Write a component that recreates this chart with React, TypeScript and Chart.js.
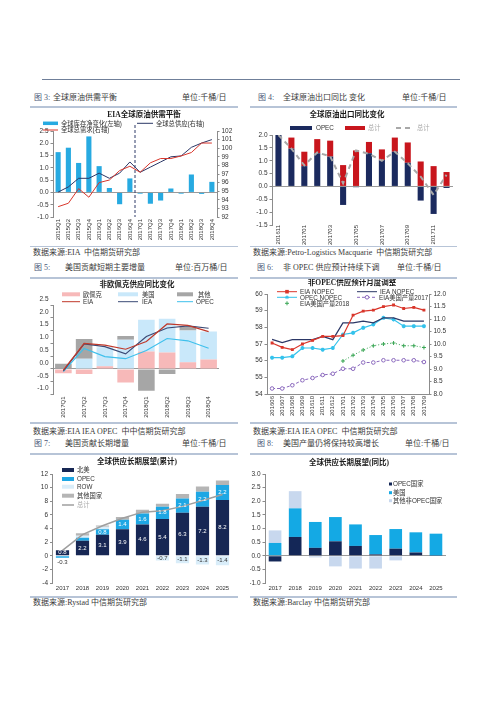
import React, { useEffect, useRef } from 'react';
import { Chart, registerables } from 'chart.js';
Chart.register(...registerables);

// ---------------- DATA ----------------
// Fig 3: EIA global supply/demand balance
const q3Labels = ['2015Q1','2015Q2','2015Q3','2015Q4','2016Q1','2016Q2','2016Q3','2016Q4','2017Q1','2017Q2','2017Q3','2017Q4','2018Q1','2018Q2','2018Q3','2018Q4'];
const q3StockChange = [1.64, 1.82, 1.2, 2.28, 1.07, 0.18, -0.48, 0.57, -0.05, -0.46, -0.33, 0.16, -0.05, 0.73, -0.06, 0.43];
const q3Demand = [93.2, 93.6, 95.3, 94.3, 96.0, 96.3, 97.4, 97.9, 97.2, 98.3, 98.8, 98.8, 99.1, 99.5, 100.6, 100.6];
const q3Supply = [94.9, 95.5, 96.5, 96.5, 97.1, 96.5, 97.1, 98.4, 97.2, 97.8, 98.4, 99.0, 99.1, 100.1, 100.6, 101.0];

// Fig 4: global crude export YoY change
const m4Labels = ['201611','201612','201701','201702','201703','201704','201705','201706','201707','201708','201709','201710','201711','201712'];
const m4Opec = [2.0, 1.47, 0.79, 1.29, 1.16, -0.72, -0.03, 1.29, 1.03, 1.35, 0.92, -0.55, -1.07, -0.06];
const m4Other = [0, 0.43, 0.56, 0.55, 0.62, 0.83, 1.4, 0.44, 0.41, 0.55, 0.79, 0.97, 0.79, 0.56];
const m4Total = [2.0, 1.47, 0.82, 1.32, 1.17, 0.12, 1.4, 1.27, 1.0, 1.35, 0.9, 0.38, -0.33, 0.45];

// Fig 5: non-OPEC supply YoY change
const q5Labels = ['2017Q1','2017Q2','2017Q3','2017Q4','2018Q1','2018Q2','2018Q3','2018Q4'];
const q5Pink = [-0.17, -0.2, 0.1, -0.53, 0.68, 0.64, 0.26, 0.37];
const q5US = [0, 0.4, 0.75, 1.14, 1.24, 1.32, 1.24, 1.09];
const q5Others = [0.2, 0.77, 0, 0.15, -0.85, -0.2, 0.16, 0];
const q5EIA = [-0.05, 1.0, 0.93, 0.77, 1.07, 1.76, 1.7, 1.46];
const q5IEA = [-0.08, 0.98, 0.87, 0.59, 1.27, 1.6, 1.68, 1.59];
const q5OPEC = [-0.1, 0.8, 0.48, 0.4, 0.72, 1.19, 1.1, 0.81];

// Fig 6: monthly revisions of non-OPEC supply forecasts
const m6Labels = ['201606','201607','201608','201609','201610','201611','201612','201701','201702','201703','201704','201705','201706','201707','201708','201709'];
const m6EIA = [57.06, 56.8, 56.66, 57.0, 57.22, 57.46, 57.46, 57.5, 58.73, 58.97, 59.03, 59.24, 59.34, 59.13, 59.2, 59.03];
const m6IEA = [57.28, 57.08, 57.26, 57.26, 57.26, 57.46, 57.26, 58.27, 58.27, 58.37, 58.27, 58.57, 58.57, 58.37, 58.37, 58.37];
const m6OPEC = [56.18, 56.18, 56.26, 56.76, 56.76, 56.66, 56.76, 57.57, 57.67, 57.97, 58.17, 58.57, 58.47, 58.07, 58.07, 58.07];
const m6US2017 = [8.22, 8.22, 8.35, 8.55, 8.64, 8.76, 8.81, 9.01, 9.01, 9.26, 9.26, 9.35, 9.35, 9.35, 9.35, 9.28];
const m6US2018 = [null, null, null, null, null, null, null, 9.32, 9.55, 9.76, 9.93, 10.0, 10.04, 9.93, 9.93, 9.86];

// Fig 7: long-term supply outlook (cumulative)
const y7Labels = ['2017','2018','2019','2020','2021','2022','2023','2024','2025'];
const y7NorthAmerica = [0.8, 2.2, 3.1, 3.9, 4.6, 5.4, 6.3, 7.2, 8.2];
const y7OPEC = [-0.3, 0.45, 0.8, 1.4, 1.6, 1.8, 2.1, 2.2, 2.2];
const y7ROW = [0, 0.3, 0.35, 0, 0, -0.7, -1.1, -1.3, -1.4];
const y7Others = [0, 0.35, 0.2, 0.4, 0.55, 0.45, 0.65, 0.75, 0.65];
const y7Total = [0.8, 3.1, 4.4, 5.5, 6.4, 6.6, 7.25, 8.1, 9.0];

// Fig 8: long-term supply outlook (YoY)
const y8Labels = ['2017','2018','2019','2020','2021','2022','2023','2024','2025'];
const y8OPEC = [-0.21, 0.69, 0.29, 0.53, 0.36, 0.05, 0.26, 0.12, 0.01];
const y8US = [0.47, 1.05, 0.95, 0.89, 0.79, 0.71, 0.72, 0.74, 0.8];
const y8OtherNonOPEC = [0.46, 0.63, -0.06, -0.39, -0.47, -0.47, -0.17, 0, 0];

// ---------------- STYLE HELPERS ----------------
const SANS = '"Liberation Sans", Arial, "Noto Sans CJK SC", sans-serif';
const CJK = '"Liberation Serif", "Noto Sans CJK SC", serif';
const AXIS = '#8c8c8c';
const TICK = '#333';

type LItem = {
  kind: 'box' | 'line' | 'sq' | 'mark';
  x: number; y: number; w: number; text: string; tx: number;
  color: string; h?: number; dash?: number[]; lw?: number;
  marker?: string; mfill?: string; tcolor?: string;
};

function drawMarker(ctx: CanvasRenderingContext2D, kind: string, x: number, y: number, r: number, color: string, fill?: string) {
  ctx.save();
  ctx.setLineDash([]);
  ctx.strokeStyle = color;
  ctx.fillStyle = fill || color;
  ctx.lineWidth = 1;
  if (kind === 'circle') {
    ctx.beginPath(); ctx.arc(x, y, r, 0, Math.PI * 2); ctx.fill(); ctx.stroke();
  } else if (kind === 'cross') {
    ctx.beginPath(); ctx.moveTo(x - r, y); ctx.lineTo(x + r, y); ctx.moveTo(x, y - r); ctx.lineTo(x, y + r); ctx.stroke();
  } else if (kind === 'star') {
    ctx.beginPath();
    ctx.moveTo(x - r, y); ctx.lineTo(x + r, y); ctx.moveTo(x, y - r); ctx.lineTo(x, y + r);
    ctx.moveTo(x - r * 0.7, y - r * 0.7); ctx.lineTo(x + r * 0.7, y + r * 0.7);
    ctx.moveTo(x - r * 0.7, y + r * 0.7); ctx.lineTo(x + r * 0.7, y - r * 0.7);
    ctx.stroke();
  } else if (kind === 'rect') {
    ctx.fillRect(x - r, y - r, 2 * r, 2 * r);
  }
  ctx.restore();
}

function makeDeco(cfg: any) {
  return {
    id: 'deco',
    afterDatasetsDraw(chart: any) {
      const ctx = chart.ctx as CanvasRenderingContext2D;
      const area = chart.chartArea;
      if (cfg.vlineAfter !== undefined) {
        const xs = chart.scales.x;
        const x = (xs.getPixelForValue(cfg.vlineAfter) + xs.getPixelForValue(cfg.vlineAfter + 1)) / 2;
        ctx.save();
        ctx.strokeStyle = '#2e3a68'; ctx.lineWidth = 1; ctx.setLineDash([3, 2]);
        ctx.beginPath(); ctx.moveTo(x, area.top - 6); ctx.lineTo(x, area.bottom); ctx.stroke();
        ctx.restore();
      }
      if (cfg.barLabel) {
        ctx.save();
        ctx.font = `6px ${SANS}`;
        ctx.textAlign = 'center';
        ctx.textBaseline = 'middle';
        chart.data.datasets.forEach((ds: any, di: number) => {
          const meta = chart.getDatasetMeta(di);
          if (meta.type !== 'bar') return;
          meta.data.forEach((el: any, i: number) => {
            const v = ds.data[i];
            const style = cfg.barLabel(di, v);
            if (!style) return;
            let cy = (el.y + el.base) / 2;
            if (style.outside) cy = Math.max(el.y, el.base) + 5;
            ctx.fillStyle = style.color;
            ctx.fillText(v.toFixed(1), el.x, cy);
          });
        });
        ctx.restore();
      }
    },
    afterDraw(chart: any) {
      const ctx = chart.ctx as CanvasRenderingContext2D;
      const ox = cfg.ox, oy = cfg.oy;
      ctx.save();
      ctx.font = `bold 7.5px ${CJK}`;
      ctx.fillStyle = '#1a1a1a';
      ctx.textAlign = 'center';
      ctx.textBaseline = 'middle';
      ctx.fillText(cfg.title, cfg.titleX - ox, cfg.titleY - oy);
      ctx.textAlign = 'left';
      ctx.font = `6.3px ${SANS}`;
      for (const it of cfg.legend as LItem[]) {
        const x = it.x - ox, y = it.y - oy;
        if (it.kind === 'box') {
          ctx.fillStyle = it.color;
          const h = it.h || 4;
          ctx.fillRect(x, y - h / 2, it.w, h);
        } else if (it.kind === 'sq') {
          ctx.fillStyle = it.color;
          ctx.fillRect(x, y - 1.5, 3, 3);
        } else if (it.kind === 'line') {
          ctx.save();
          ctx.strokeStyle = it.color; ctx.lineWidth = it.lw || 1;
          ctx.setLineDash(it.dash || []);
          ctx.beginPath(); ctx.moveTo(x, y); ctx.lineTo(x + it.w, y); ctx.stroke();
          ctx.restore();
          if (it.marker) drawMarker(ctx, it.marker, x + it.w / 2, y, 1.8, it.color, it.mfill);
        } else if (it.kind === 'mark') {
          if (it.marker) drawMarker(ctx, it.marker, x + it.w / 2, y, 2, it.color, it.mfill);
        }
        ctx.fillStyle = it.tcolor || '#333';
        ctx.fillText(it.text, it.tx - ox, y + 0.5);
      }
      ctx.restore();
    },
  };
}

function catAxis(h: number, rotate: boolean, extra: any = {}) {
  return {
    type: 'category',
    grid: { display: false, drawTicks: false, tickLength: 0 },
    border: { display: !!extra.border, color: AXIS },
    stacked: !!extra.stacked,
    offset: true,
    ticks: {
      font: { size: 6, family: SANS },
      color: TICK,
      autoSkip: false,
      padding: extra.padding !== undefined ? extra.padding : 2,
      minRotation: rotate ? 90 : 0,
      maxRotation: rotate ? 90 : 0,
      ...(extra.callback ? { callback: extra.callback } : {}),
    },
    afterFit: (s: any) => { s.height = h; },
  };
}

function valAxis(w: number, min: number, max: number, step: number, dec: number, extra: any = {}) {
  return {
    type: 'linear',
    position: extra.position || 'left',
    min, max,
    stacked: !!extra.stacked,
    grid: {
      drawOnChartArea: !!extra.zero,
      color: (c: any) => (c.tick && c.tick.value === 0 ? '#9a9a9a' : 'rgba(0,0,0,0)'),
      tickColor: AXIS,
      tickLength: 2.5,
      lineWidth: 1,
    },
    border: { display: true, color: AXIS },
    ticks: {
      stepSize: step,
      autoSkip: false,
      font: { size: 6.5, family: SANS },
      color: TICK,
      padding: 2,
      labelOffset: extra.labelOffset || 0,
      callback: (v: any) => Number(v).toFixed(dec),
    },
    afterFit: (s: any) => { s.width = w; },
  };
}

const baseOpts = (pad: any) => ({
  animation: false,
  responsive: false,
  maintainAspectRatio: false,
  layout: { padding: pad },
  plugins: { legend: { display: false }, tooltip: { enabled: false }, title: { display: false } },
});

// ---------------- CHART CONFIGS ----------------
function cfg3(ox: number, oy: number) {
  return {
    type: 'bar',
    data: {
      labels: q3Labels,
      datasets: [
        { type: 'bar', label: '全球库存净变化(左轴)', data: q3StockChange, yAxisID: 'y', backgroundColor: '#27aae1', barPercentage: 0.5, categoryPercentage: 1, order: 2 },
        { type: 'line', label: '全球总需求(右轴)', data: q3Demand, yAxisID: 'y1', borderColor: '#d9362b', borderWidth: 1, pointRadius: 0, order: 1 },
        { type: 'line', label: '全球总供应(右轴)', data: q3Supply, yAxisID: 'y1', borderColor: '#2b3766', borderWidth: 1, pointRadius: 0, order: 1 },
      ],
    },
    options: {
      ...baseOpts({ top: 23, left: 0, right: 0, bottom: 0 }),
      scales: {
        x: catAxis(29, true),
        y: valAxis(23, -1, 2.5, 0.5, 1, { zero: true }),
        y1: valAxis(21, 92, 102, 1, 0, { position: 'right' }),
      },
    },
    plugins: [makeDeco({
      ox, oy, title: 'EIA全球原油供需平衡', titleX: 144, titleY: 115, vlineAfter: 7,
      legend: [
        { kind: 'box', x: 43, y: 123.3, w: 15, h: 3.5, color: '#27aae1', text: '全球库存净变化(左轴)', tx: 61 },
        { kind: 'line', x: 137, y: 123.3, w: 16, color: '#2b3766', text: '全球总供应(右轴)', tx: 156 },
        { kind: 'line', x: 43, y: 130, w: 15, color: '#d9362b', text: '全球总需求(右轴)', tx: 61 },
      ],
    })],
  };
}

function cfg4(ox: number, oy: number) {
  return {
    type: 'bar',
    data: {
      labels: m4Labels,
      datasets: [
        { type: 'bar', label: 'OPEC', data: m4Opec, backgroundColor: '#1b2a5e', barPercentage: 0.47, categoryPercentage: 1, stack: 'b', order: 2 },
        { type: 'bar', label: '总计', data: m4Other, backgroundColor: '#c8161d', barPercentage: 0.47, categoryPercentage: 1, stack: 'b', order: 2 },
        { type: 'line', label: '总计', data: m4Total, borderColor: '#a8a8a8', borderWidth: 2, borderDash: [5, 4], pointRadius: 0, stack: 'l', order: 1 },
      ],
    },
    options: {
      ...baseOpts({ top: 27, left: 0, right: 4, bottom: 0 }),
      scales: {
        x: catAxis(21, true, { stacked: true, padding: 0, callback: (v: any, i: number) => (i % 2 === 0 ? m4Labels[i] : '') }),
        y: valAxis(22, -1.5, 2.0, 0.5, 1, { zero: true, stacked: true }),
      },
    },
    plugins: [makeDeco({
      ox, oy, title: '全球原油出口同比变化', titleX: 347, titleY: 115,
      legend: [
        { kind: 'box', x: 290, y: 128, w: 22, h: 4, color: '#1b2a5e', text: 'OPEC', tx: 316 },
        { kind: 'box', x: 345, y: 128, w: 20, h: 4, color: '#c8161d', text: '总计', tx: 368, tcolor: '#aaa' },
        { kind: 'line', x: 396, y: 128, w: 17, lw: 2, dash: [5, 4], color: '#a8a8a8', text: '总计', tx: 417, tcolor: '#aaa' },
      ],
    })],
  };
}

function cfg5(ox: number, oy: number) {
  return {
    type: 'bar',
    data: {
      labels: q5Labels,
      datasets: [
        { type: 'bar', label: '欧佩克', data: q5Pink, backgroundColor: '#f7b9b9', barPercentage: 0.8, categoryPercentage: 1, stack: 'b', order: 2 },
        { type: 'bar', label: '美国', data: q5US, backgroundColor: '#c9e8fa', barPercentage: 0.8, categoryPercentage: 1, stack: 'b', order: 2 },
        { type: 'bar', label: '其他', data: q5Others, backgroundColor: '#a6a6a6', barPercentage: 0.8, categoryPercentage: 1, stack: 'b', order: 2 },
        { type: 'line', label: 'EIA', data: q5EIA, borderColor: '#c0392b', borderWidth: 1.2, pointRadius: 0, stack: 'l1', order: 1 },
        { type: 'line', label: 'IEA', data: q5IEA, borderColor: '#3b4a75', borderWidth: 1.2, pointRadius: 0, stack: 'l2', order: 1 },
        { type: 'line', label: 'OPEC', data: q5OPEC, borderColor: '#3ec0ec', borderWidth: 1.2, pointRadius: 0, stack: 'l3', order: 1 },
      ],
    },
    options: {
      ...baseOpts({ top: 26, left: 0, right: 19, bottom: 0 }),
      scales: {
        x: catAxis(28.5, true, { stacked: true }),
        y: valAxis(23, -1, 2.5, 0.5, 1, { zero: true, stacked: true, labelOffset: -6 }),
      },
    },
    plugins: [makeDeco({
      ox, oy, title: '非欧佩克供应同比变化', titleX: 137, titleY: 285,
      legend: [
        { kind: 'box', x: 62, y: 294.3, w: 18, h: 4, color: '#f7b9b9', text: '欧佩克', tx: 83 },
        { kind: 'box', x: 118, y: 294.3, w: 20, h: 4, color: '#c9e8fa', text: '美国', tx: 142 },
        { kind: 'box', x: 177, y: 294.3, w: 16, h: 4, color: '#a6a6a6', text: '其他', tx: 198 },
        { kind: 'line', x: 62, y: 301.7, w: 18, color: '#c0392b', text: 'EIA', tx: 83 },
        { kind: 'line', x: 118, y: 301.7, w: 20, color: '#3b4a75', text: 'IEA', tx: 142 },
        { kind: 'line', x: 177, y: 301.7, w: 16, color: '#3ec0ec', text: 'OPEC', tx: 196 },
      ],
    })],
  };
}

function cfg6(ox: number, oy: number) {
  return {
    type: 'line',
    data: {
      labels: m6Labels,
      datasets: [
        { label: 'EIA NOPEC', data: m6EIA, yAxisID: 'y', borderColor: '#d9362b', backgroundColor: '#d9362b', borderWidth: 1.2, pointStyle: 'rect', pointRadius: 1.2 },
        { label: 'IEA NOPEC', data: m6IEA, yAxisID: 'y', borderColor: '#2b3766', backgroundColor: '#2b3766', borderWidth: 1.2, pointRadius: 0 },
        { label: 'OPEC NOPEC', data: m6OPEC, yAxisID: 'y', borderColor: '#33c2ec', backgroundColor: '#33c2ec', borderWidth: 1.2, pointStyle: 'star', pointRadius: 2 },
        { label: 'EIA美国产量2017', data: m6US2017, yAxisID: 'y1', borderColor: '#8a68bd', backgroundColor: '#ffffff', borderWidth: 1, borderDash: [3, 2], pointStyle: 'circle', pointRadius: 1.8 },
        { label: 'EIA美国产量2018', data: m6US2018, yAxisID: 'y1', borderColor: '#3aa655', backgroundColor: '#3aa655', borderWidth: 1, borderDash: [1, 2], pointStyle: 'cross', pointRadius: 2 },
      ],
    },
    options: {
      ...baseOpts({ top: 15, left: 0, right: 0, bottom: 0 }),
      scales: {
        x: catAxis(29, true, { border: true }),
        y: valAxis(17, 54, 60, 1, 0),
        y1: valAxis(28, 8, 12, 0.5, 1, { position: 'right' }),
      },
    },
    plugins: [makeDeco({
      ox, oy, title: '非OPEC供应预计月度调整', titleX: 352, titleY: 283,
      legend: [
        { kind: 'line', x: 277, y: 291.7, w: 20, color: '#d9362b', marker: 'rect', text: 'EIA NOPEC', tx: 300 },
        { kind: 'line', x: 357, y: 291.7, w: 20, color: '#2b3766', text: 'IEA NOPEC', tx: 380 },
        { kind: 'line', x: 277, y: 297.3, w: 20, color: '#33c2ec', marker: 'star', text: 'OPEC NOPEC', tx: 300 },
        { kind: 'line', x: 357, y: 297.3, w: 20, color: '#8a68bd', dash: [3, 2], marker: 'circle', mfill: '#fff', text: 'EIA美国产量2017', tx: 379 },
        { kind: 'mark', x: 277, y: 303.3, w: 20, color: '#3aa655', marker: 'cross', text: 'EIA美国产量2018', tx: 300 },
      ],
    })],
  };
}

function cfg7(ox: number, oy: number) {
  const bp = { barPercentage: 0.66, categoryPercentage: 1, stack: 'b', order: 2 };
  return {
    type: 'bar',
    data: {
      labels: y7Labels,
      datasets: [
        { type: 'bar', label: '北美', data: y7NorthAmerica, backgroundColor: '#172754', ...bp },
        { type: 'bar', label: 'OPEC', data: y7OPEC, backgroundColor: '#1ea7e4', ...bp },
        { type: 'bar', label: 'ROW', data: y7ROW, backgroundColor: '#d9edf9', ...bp },
        { type: 'bar', label: '其他国家', data: y7Others, backgroundColor: '#b5b5b5', ...bp },
        { type: 'line', label: '总计', data: y7Total, borderColor: '#9f9f9f', borderWidth: 1.5, pointRadius: 0, stack: 'l', order: 1 },
      ],
    },
    options: {
      ...baseOpts({ top: 19, left: 0, right: 5.5, bottom: 0 }),
      scales: {
        x: catAxis(14, false, { stacked: true }),
        y: valAxis(22.5, -4, 12, 2, 0, { stacked: true }),
      },
    },
    plugins: [makeDeco({
      ox, oy, title: '全球供应长期展望(累计)', titleX: 137, titleY: 462.3,
      barLabel: (di: number, v: number) => {
        if (di === 0) return { color: '#fff' };
        if (di === 1) return v < 0 ? { color: '#333', outside: true } : v >= 0.8 ? { color: '#fff' } : null;
        if (di === 2) return v < 0 ? { color: '#333' } : null;
        return null;
      },
      legend: [
        { kind: 'box', x: 62, y: 470, w: 12, h: 4, color: '#172754', text: '北美', tx: 77 },
        { kind: 'box', x: 62, y: 479, w: 12, h: 4, color: '#1ea7e4', text: 'OPEC', tx: 77 },
        { kind: 'box', x: 62, y: 486.7, w: 12, h: 4, color: '#d9edf9', text: 'ROW', tx: 77 },
        { kind: 'box', x: 62, y: 495.7, w: 12, h: 4, color: '#b5b5b5', text: '其他国家', tx: 77 },
        { kind: 'line', x: 62, y: 505, w: 12, lw: 1.5, color: '#9f9f9f', text: '总计', tx: 77, tcolor: '#aaa' },
      ],
    })],
  };
}

function cfg8(ox: number, oy: number) {
  const bp = { barPercentage: 0.63, categoryPercentage: 1, stack: 'b' };
  return {
    type: 'bar',
    data: {
      labels: y8Labels,
      datasets: [
        { label: 'OPEC国家', data: y8OPEC, backgroundColor: '#142757', ...bp },
        { label: '美国', data: y8US, backgroundColor: '#14a9e4', ...bp },
        { label: '其他非OPEC国家', data: y8OtherNonOPEC, backgroundColor: '#c8d8ee', ...bp },
      ],
    },
    options: {
      ...baseOpts({ top: 19, left: 0, right: 11, bottom: 0 }),
      scales: {
        x: catAxis(14, false, { stacked: true }),
        y: valAxis(15, -1, 3, 0.5, 1, { stacked: true, zero: true }),
      },
    },
    plugins: [makeDeco({
      ox, oy, title: '全球供应长期展望(同比)', titleX: 349, titleY: 463.3,
      legend: [
        { kind: 'sq', x: 389, y: 484, w: 3, color: '#142757', text: 'OPEC国家', tx: 393 },
        { kind: 'sq', x: 389, y: 492.7, w: 3, color: '#14a9e4', text: '美国', tx: 393 },
        { kind: 'sq', x: 389, y: 500.7, w: 3, color: '#c8d8ee', text: '其他非OPEC国家', tx: 393 },
      ],
    })],
  };
}

// ---------------- COMPONENTS ----------------
function ChartBox({ left, top, width, height, make }: any) {
  const ref = useRef<HTMLCanvasElement>(null);
  useEffect(() => {
    const c = new Chart(ref.current as HTMLCanvasElement, make(left, top) as any);
    return () => c.destroy();
  }, []);
  return (
    <div style={{ position: 'absolute', left, top, width, height }}>
      <canvas ref={ref} width={width} height={height} style={{ display: 'block', width, height }} />
    </div>
  );
}

const LINE = '#b7c4d7';
const txt = (extra: any) => ({
  position: 'absolute' as const, fontSize: 8, lineHeight: '10px', whiteSpace: 'pre' as const,
  fontFamily: CJK, color: '#3a3a3a', ...extra,
});

function Panel({ x, w, titleY, lineY, srcLineY, srcY, num, numX, title, titleX, unit, unitX, source }: any) {
  return (
    <>
      <div style={txt({ left: numX, top: titleY - 5, color: '#4a5877' })}>{num}</div>
      <div style={txt({ left: titleX, top: titleY - 5 })}>{title}</div>
      <div style={txt({ left: unitX, top: titleY - 5 })}>{unit}</div>
      <div style={{ position: 'absolute', left: x, top: lineY - 1, width: w, height: 2, background: LINE }} />
      <div style={{ position: 'absolute', left: x, top: srcLineY - 1, width: w, height: 1.5, background: LINE }} />
      <div style={txt({ left: x + 3, top: srcY - 5 })}>{source}</div>
    </>
  );
}

export default function App() {
  return (
    <div style={{ position: 'absolute', left: 0, top: 0, width: 500, height: 706, background: '#fff', overflow: 'hidden' }}>
      <div style={{ position: 'absolute', left: 42, top: 78.5, width: 418, height: 1, background: '#6f7f99' }} />

      <Panel x={30} w={208} titleY={98} lineY={107} srcLineY={246.5} srcY={252.5} num="图 3:" numX={34} title="全球原油供需平衡" titleX={53} unit="单位:千桶/日" unitX={182} source="数据来源:EIA  中信期货研究部" />
      <Panel x={250} w={207} titleY={98} lineY={107} srcLineY={246.5} srcY={252.5} num="图 4:" numX={258} title="全球原油出口同比 变化" titleX={283} unit="单位:千桶/日" unitX={402} source="数据来源:Petro-Logistics Macquarie  中信期货研究部" />
      <Panel x={30} w={208} titleY={268} lineY={277.5} srcLineY={423} srcY={432} num="图 5:" numX={34} title="美国贡献短期主要增量" titleX={65} unit="单位:百万桶/日" unitX={175} source="数据来源:EIA IEA OPEC  中中信期货研究部" />
      <Panel x={250} w={207} titleY={268} lineY={277.5} srcLineY={423} srcY={432} num="图 6:" numX={257} title="非 OPEC 供应预计持续下调" titleX={283} unit="单位:千桶/日" unitX={397} source="数据来源:EIA IEA OPEC  中信期货研究部" />
      <Panel x={30} w={208} titleY={444} lineY={454} srcLineY={597} srcY={602.5} num="图 7:" numX={34} title="美国贡献长期增量" titleX={65} unit="单位:千桶/日" unitX={182} source="数据来源:Rystad 中信期货研究部" />
      <Panel x={250} w={207} titleY={444} lineY={454} srcLineY={597} srcY={602.5} num="图 8:" numX={257} title="美国产量仍将保持较高增长" titleX={283} unit="单位:千桶/日" unitX={405} source="数据来源:Barclay 中信期货研究部" />

      <ChartBox left={30} top={108} width={208} height={138} make={cfg3} />
      <ChartBox left={250} top={108} width={207} height={138} make={cfg4} />
      <ChartBox left={30} top={279} width={208} height={144} make={cfg5} />
      <ChartBox left={250} top={279} width={207} height={144} make={cfg6} />
      <ChartBox left={30} top={455} width={208} height={142} make={cfg7} />
      <ChartBox left={250} top={455} width={207} height={142} make={cfg8} />
    </div>
  );
}
